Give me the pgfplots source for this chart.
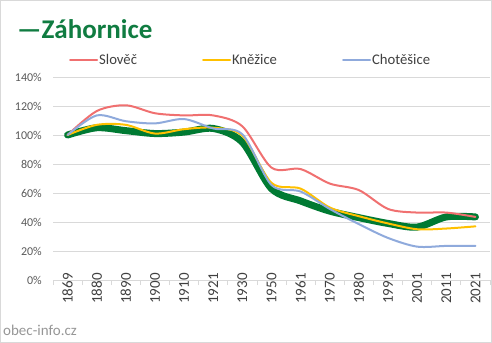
\documentclass[border=0pt]{standalone}
\usepackage{pgfplots}
\pgfplotsset{compat=1.18}
\usepackage{fontspec}
\setmainfont{Carlito}
\definecolor{zgreen}{RGB}{0,122,51}
\definecolor{tgreen}{RGB}{16,124,65}
\definecolor{sred}{RGB}{240,112,112}
\definecolor{kyel}{RGB}{255,192,0}
\definecolor{cblue}{RGB}{143,170,220}
\definecolor{gridgray}{RGB}{217,217,217}
\definecolor{labgray}{RGB}{89,89,89}
\definecolor{leggray}{RGB}{64,64,64}
\definecolor{wmgray}{RGB}{150,150,150}
\begin{document}
\begin{tikzpicture}
\draw[gridgray, line width=0.8bp] (0.4bp,0.4bp) rectangle (491.6bp,342.6bp);
\node[anchor=base west, text=tgreen, font=\fontsize{27bp}{30bp}\selectfont\bfseries, inner sep=0pt] at (17bp,304bp) {—Záhornice};
\node[anchor=base west, text=wmgray, font=\fontsize{15bp}{17bp}\selectfont, inner sep=0pt] at (3bp,8bp) {obec-info.cz};
\begin{axis}[
  at={(53bp,63bp)}, anchor=south west,
  scale only axis, width=437bp, height=203bp,
  xmin=-0.5, xmax=14.5, ymin=0, ymax=140,
  axis x line*=bottom, axis y line*=left,
  y axis line style={draw=none},
  x axis line style={gridgray, line width=0.8bp, -},
  xtick={0,...,14},
  xticklabels={1869,1880,1890,1900,1910,1921,1930,1950,1961,1970,1980,1991,2001,2011,2021},
  minor xtick={-0.5,0.5,...,14.5},
  tick align=outside,
  major tick length=0pt, minor tick length=5bp,
  minor x tick style={gridgray, line width=0.8bp},
  major tick style={draw=none},
  ytick={0,20,...,140},
  yticklabels={0\%,20\%,40\%,60\%,80\%,100\%,120\%,140\%},
  ymajorgrids, grid style={gridgray, line width=0.8bp},
  xticklabel style={yshift=7bp, rotate=90, anchor=east, inner sep=0pt, text=leggray, font=\fontsize{15bp}{17bp}\selectfont},
  yticklabel style={anchor=east, inner sep=0pt, xshift=-11bp, text=labgray, font=\fontsize{12bp}{14bp}\selectfont},
  legend columns=3,
  legend style={at={(axis description cs:0.0366,1.0837)}, anchor=west, draw=none, fill=none, inner sep=0pt,
    font=\fontsize{14.7bp}{16bp}\selectfont, text=leggray,
    nodes={inner xsep=1bp, inner ysep=0pt},
    /tikz/every even column/.append style={column sep=64bp}},
  legend image code/.code={\draw[#1] (0bp,0bp) -- (27bp,0bp);},
  every axis plot/.append style={smooth, tension=0.5, line cap=round, line join=round},
]
\addplot[zgreen, line width=7bp, forget plot] coordinates {
(0,100) (1,105) (2,103) (3,101) (4,102) (5,104.5) (6,95) (7,63) (8,54.5) (9,47.5) (10,43) (11,39) (12,36.5) (13,43.5) (14,43.5)};
\addplot[sred, line width=2bp] coordinates {
(0,100) (1,116.5) (2,120.5) (3,115) (4,113.5) (5,113.5) (6,106) (7,77.5) (8,76.5) (9,66.5) (10,62) (11,49) (12,46.5) (13,46.5) (14,43.5)};
\addlegendentry{Slověč}
\addplot[kyel, line width=2bp] coordinates {
(0,100) (1,107) (2,107) (3,101) (4,104) (5,105) (6,99.5) (7,67) (8,63) (9,50) (10,44) (11,39) (12,35) (13,35.5) (14,37)};
\addlegendentry{Kněžice}
\addplot[cblue, line width=2bp] coordinates {
(0,100) (1,113.5) (2,109.5) (3,108) (4,111) (5,104.5) (6,100.5) (7,65.5) (8,61) (9,49) (10,38.5) (11,29) (12,23) (13,23.5) (14,23.5)};
\addlegendentry{Chotěšice}
\end{axis}
\end{tikzpicture}
\end{document}
